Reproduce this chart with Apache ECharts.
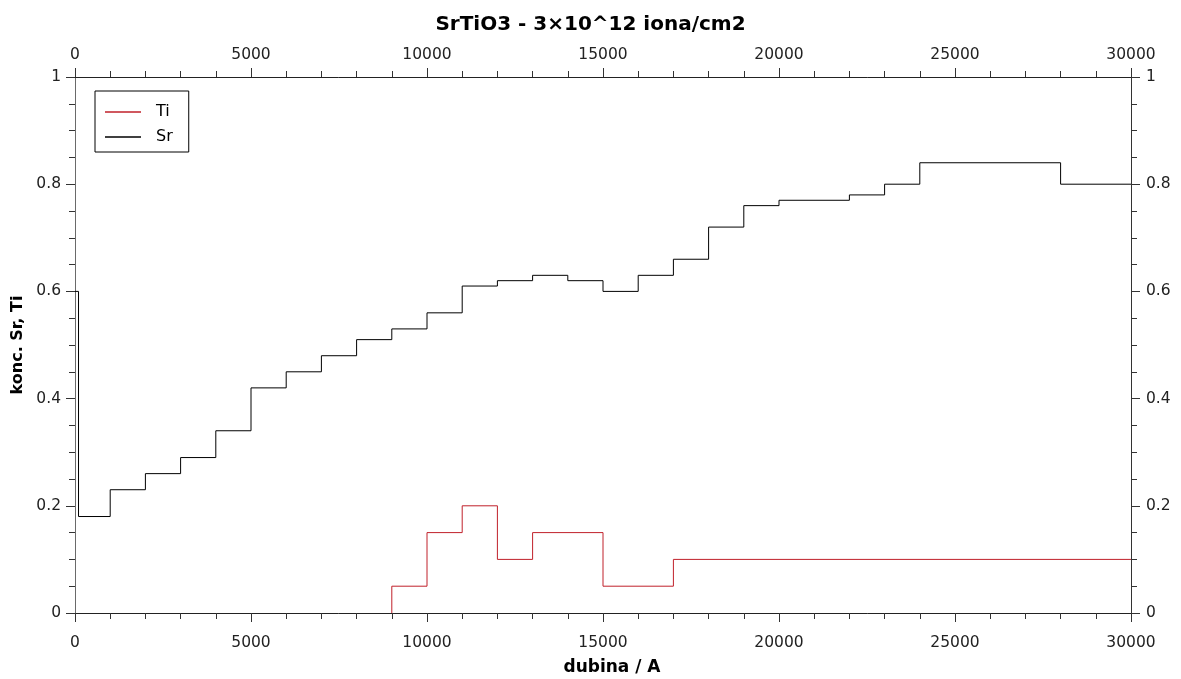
<!DOCTYPE html>
<html><head><meta charset="utf-8">
<script src="https://cdn.jsdelivr.net/npm/echarts@6/dist/echarts.min.js"></script>
<style>html,body{margin:0;padding:0;background:#fff}#c{width:1181px;height:679px}</style>
</head><body><div id="c"></div>
<script>
// step starts (depth / A) and values
const srX = [0, 100, 1000, 2000, 3000, 4000, 5000, 6000, 7000, 8000, 9000, 10000, 11000, 12000, 13000, 14000, 15000, 16000, 17000, 18000, 19000, 20000, 22000, 23000, 24000, 28000, 30000];
const srY = [0.60, 0.18, 0.23, 0.26, 0.29, 0.34, 0.42, 0.45, 0.48, 0.51, 0.53, 0.56, 0.61, 0.62, 0.63, 0.62, 0.60, 0.63, 0.66, 0.72, 0.76, 0.77, 0.78, 0.80, 0.84, 0.80, 0.80];
const tiX = [9000, 9000, 10000, 11000, 12000, 13000, 15000, 17000, 30000];
const tiY = [0, 0.05, 0.15, 0.20, 0.10, 0.15, 0.05, 0.10, 0.10];
const xTicks = [0, 5000, 10000, 15000, 20000, 25000, 30000];
const yTicks = [0, 0.2, 0.4, 0.6, 0.8, 1];

const FONT = 'DejaVu Sans';
const zip = (a, b) => a.map((v, i) => [v, b[i]]);
const LBL = 15.5;
const xAx = (pos, named) => ({
  type: 'value', position: pos, min: 0, max: 30000, interval: 5000,
  axisLine: {show: true, onZero: false, lineStyle: {color: '#222', width: 1}},
  axisTick: {show: true, inside: false, length: 9, lineStyle: {color: '#333'}},
  minorTick: {show: true, splitNumber: 5, length: 6, lineStyle: {color: '#333'}},
  splitLine: {show: false}, minorSplitLine: {show: false},
  name: named ? 'dubina / A' : '', nameLocation: 'middle', nameGap: 46,
  nameTextStyle: {fontFamily: FONT, fontWeight: 'bold', fontSize: 17, color: '#000', padding: [0, 0, 0, 18]},
  axisLabel: {color: '#222', fontFamily: FONT, fontSize: LBL, margin: pos === 'top' ? 14 : 22,
    formatter: v => xTicks.includes(v) ? String(v) : ''}
});
const yAx = (pos, named) => ({
  type: 'value', position: pos, min: 0, max: 1, interval: 0.2,
  axisLine: {show: true, onZero: false, lineStyle: {color: pos === 'left' ? '#6a6a6a' : '#333', width: 1}},
  axisTick: {show: true, inside: false, length: 9, lineStyle: {color: '#333'}},
  minorTick: {show: true, splitNumber: 4, length: 6, lineStyle: {color: '#333'}},
  splitLine: {show: false}, minorSplitLine: {show: false},
  name: named ? 'konc. Sr, Ti' : '', nameLocation: 'middle', nameGap: 37,
  nameTextStyle: {fontFamily: FONT, fontWeight: 'bold', fontSize: 16, color: '#000'},
  axisLabel: {color: '#222', fontFamily: FONT, fontSize: LBL, margin: pos === 'left' ? 14 : 15,
    formatter: v => { const t = yTicks.find(k => Math.abs(k - v) < 1e-9); return t === undefined ? '' : String(t); }}
});

const chart = echarts.init(document.getElementById('c'), null, {renderer: 'canvas'});
chart.setOption({
  animation: false,
  backgroundColor: '#fff',
  title: {text: 'SrTiO3 - 3×10^12 iona/cm2', left: 'center', top: 10,
    textStyle: {fontFamily: FONT, fontWeight: 'bold', fontSize: 20, color: '#000'}},
  grid: {left: 75, right: 50, top: 77, bottom: 66, containLabel: false, outerBoundsMode: 'none'},
  xAxis: [xAx('bottom', true), xAx('top', false)],
  yAxis: [yAx('left', true), yAx('right', false)],
  legend: {
    orient: 'vertical', left: 95, top: 91, padding: [11, 16, 5, 10],
    borderColor: '#000', borderWidth: 1, itemWidth: 36, itemHeight: 1.5, itemGap: 5,
    textStyle: {fontFamily: FONT, fontSize: 16, color: '#000', lineHeight: 20, padding: [0, 0, 0, 10]},
    data: [{name: 'Ti', icon: 'rect'}, {name: 'Sr', icon: 'rect'}]
  },
  series: [
    {name: 'Ti', type: 'line', step: 'end', symbol: 'none', xAxisIndex: 0, yAxisIndex: 0,
      data: zip(tiX, tiY), lineStyle: {color: '#c0202a', width: 1}, itemStyle: {color: '#c0202a'}},
    {name: 'Sr', type: 'line', step: 'end', symbol: 'none', xAxisIndex: 0, yAxisIndex: 0,
      data: zip(srX, srY), lineStyle: {color: '#000', width: 1}, itemStyle: {color: '#000'}}
  ]
});
</script></body></html>
